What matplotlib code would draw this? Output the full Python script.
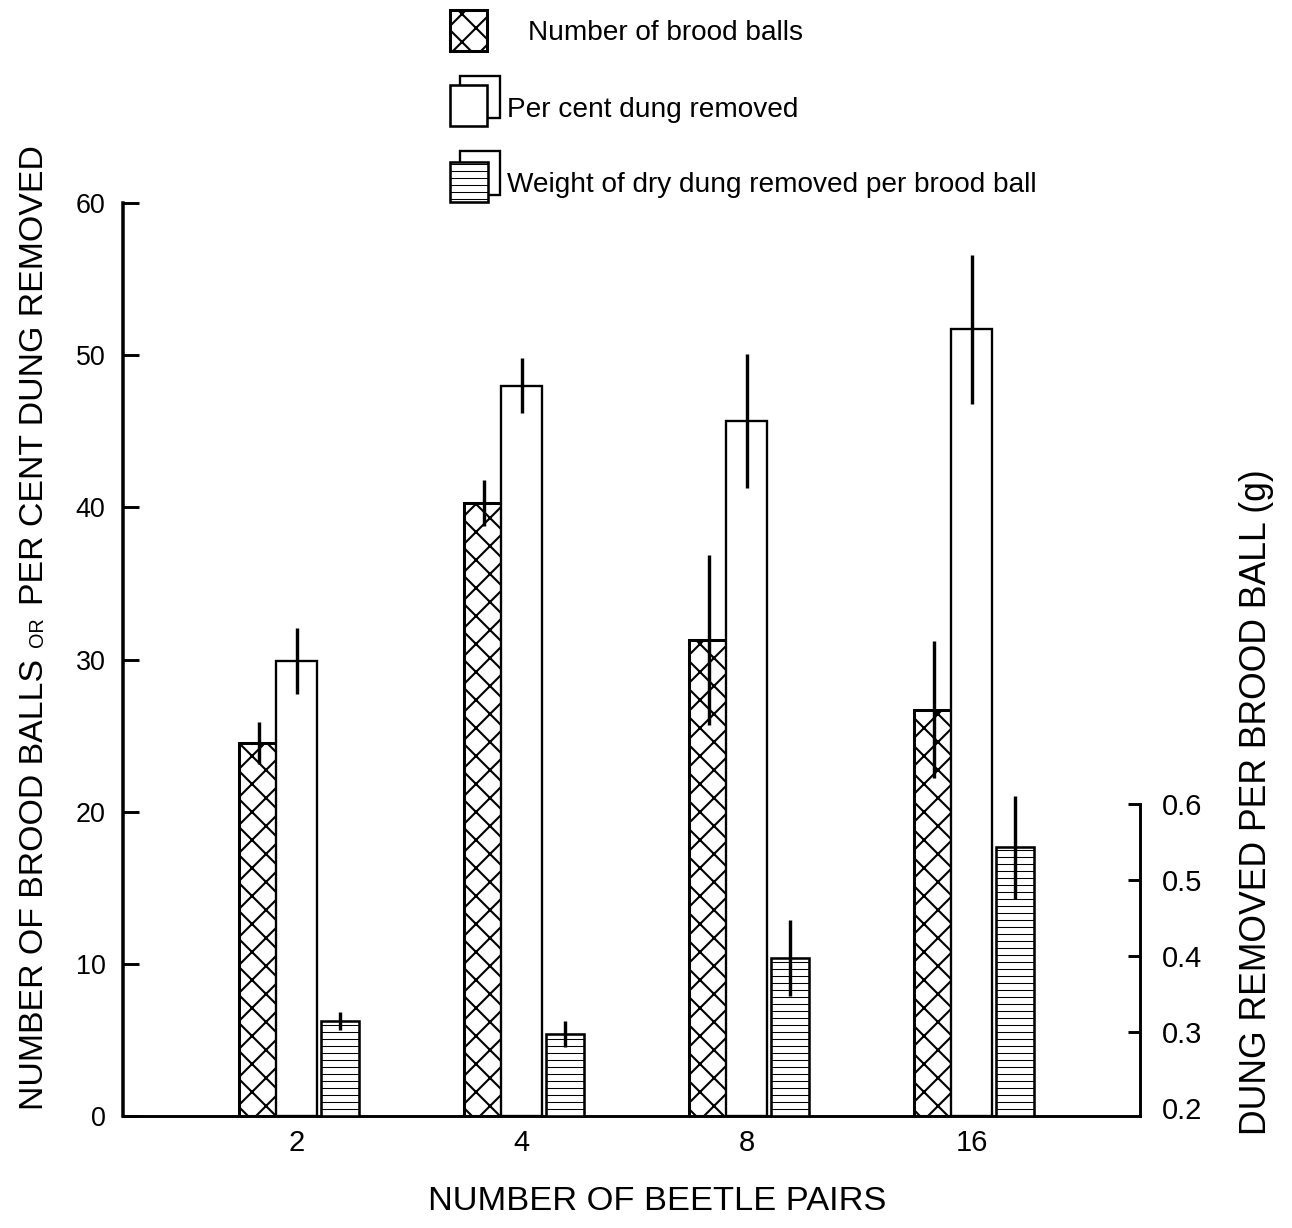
import matplotlib
matplotlib.use('Agg')
import matplotlib.pyplot as plt
from matplotlib.patches import Rectangle
import numpy as np

# Data
pairs = ['2', '4', '8', '16']
brood_balls = [24.5, 40.3, 31.3, 26.7]
brood_balls_err = [1.4, 1.5, 5.6, 4.5]
pct_removed = [29.9, 48.0, 45.7, 51.7]
pct_removed_err = [2.2, 1.8, 4.4, 4.9]
weight_per_ball = [0.314, 0.297, 0.397, 0.543]
weight_per_ball_err = [0.012, 0.017, 0.05, 0.068]

W, H, DPI = 1292, 1228, 84
FONT = ['Liberation Sans', 'DejaVu Sans']

# right axis sits a few pixels higher than the left one in the original
R_LO, R_HI = 0.1895, 1.3908

plt.rcParams['hatch.linewidth'] = 1.8

fig = plt.figure(figsize=(W / DPI, H / DPI), dpi=DPI)
ax = fig.add_axes([123 / W, 112 / H, (1140 - 123) / W, (1116 - 203) / H])
ax2 = ax.twinx()

x = np.arange(len(pairs))

# Number of brood balls (cross hatched)
b1 = ax.bar(x - 0.169, brood_balls, width=0.178, facecolor='white',
            edgecolor='black', linewidth=2.6, hatch='x', zorder=2)
# Per cent dung removed (open)
b2 = ax.bar(x, pct_removed, width=0.182, facecolor='white',
            edgecolor='black', linewidth=2.0, zorder=2)
# Weight per brood ball on right axis (horizontal lines)
w = np.array(weight_per_ball)
b3 = ax2.bar(x + 0.191, w - R_LO, bottom=R_LO, width=0.169, facecolor='white',
             edgecolor='black', linewidth=2.2, hatch='--', zorder=2)
for p in b3:
    if hasattr(p, 'set_hatch_linewidth'):
        p.set_hatch_linewidth(0.9)

ax.errorbar(x - 0.169, brood_balls, yerr=brood_balls_err, fmt='none',
            ecolor='black', elinewidth=2.9, capsize=0, zorder=3)
ax.errorbar(x, pct_removed, yerr=pct_removed_err, fmt='none',
            ecolor='black', elinewidth=2.9, capsize=0, zorder=3)
ax2.errorbar(x + 0.191, weight_per_ball, yerr=weight_per_ball_err, fmt='none',
             ecolor='black', elinewidth=2.9, capsize=0, zorder=3)

# Axes styling
ax.set_xlim(-0.773, 3.747)
ax.set_ylim(0, 60)
ax.set_yticks(range(0, 61, 10))
ax.set_xticks(x)
ax.set_xticklabels(pairs, family=FONT, fontsize=25)
for lab in ax.get_yticklabels():
    lab.set_family(FONT)
    lab.set_fontsize(23)
ax.tick_params(axis='y', direction='in', length=14, width=2.5, pad=15)
ax.tick_params(axis='x', length=0, pad=11)
ax.spines['top'].set_visible(False)
ax.spines['right'].set_visible(False)
ax.spines['left'].set_linewidth(3)
ax.spines['bottom'].set_linewidth(2.5)

ax2.set_ylim(R_LO, R_HI)
ax2.set_yticks([0.2, 0.3, 0.4, 0.5, 0.6])
ax2.set_yticklabels(['0.2', '0.3', '0.4', '0.5', '0.6'], family=FONT, fontsize=25)
ax2.tick_params(axis='y', direction='in', length=10, width=2.5, pad=19)
ax2.yaxis.get_major_ticks()[0].tick2line.set_visible(False)
for s in ['top', 'left', 'bottom']:
    ax2.spines[s].set_visible(False)
ax2.spines['right'].set_bounds(R_LO, 0.6)
ax2.spines['right'].set_linewidth(2.5)


def fx(px):
    return px / W


def fy(py):
    return 1 - py / H


# Axis titles
fig.text(fx(657), fy(1201), 'NUMBER OF BEETLE PAIRS', family=FONT,
         fontsize=29.5, ha='center', va='center')
fig.text(fx(1257), fy(802), 'DUNG REMOVED PER BROOD BALL (g)', family=FONT,
         fontsize=30.5, ha='center', va='center', rotation=90)

# Left title with small-caps "OR", built piece by piece upward
renderer = fig.canvas.get_renderer()
ystart = 1110
for piece, size in [('NUMBER OF BROOD BALLS', 29), ('OR', 17),
                    ('PER CENT DUNG REMOVED', 29)]:
    t = fig.text(fx(43), fy(ystart), piece, family=FONT, fontsize=size,
                 rotation=90, rotation_mode='anchor', ha='left', va='baseline')
    ext = t.get_window_extent(renderer)
    ystart -= ext.height + 12

# Legend drawn by hand


def box(x0, y0, x1, y1, **kw):
    r = Rectangle((fx(x0), fy(y1)), fx(x1) - fx(x0), fy(y0) - fy(y1),
                  transform=fig.transFigure, facecolor='white',
                  edgecolor='black', **kw)
    fig.patches.append(r)
    return r


box(450, 10, 487, 51, linewidth=2.6, hatch='x')
box(460, 76, 500, 118, linewidth=2.0)
box(450, 85, 487, 126, linewidth=2.2)
box(460, 151, 500, 195, linewidth=2.0)
r = box(450, 162, 488, 202, linewidth=2.2, hatch='--')
if hasattr(r, 'set_hatch_linewidth'):
    r.set_hatch_linewidth(0.9)

fig.text(fx(528), fy(33), 'Number of brood balls', family=FONT,
         fontsize=24, va='center')
fig.text(fx(507), fy(110), 'Per cent dung removed', family=FONT,
         fontsize=24, va='center')
fig.text(fx(507), fy(185), 'Weight of dry dung removed per brood ball',
         family=FONT, fontsize=24, va='center')

fig.savefig('out.png', dpi=DPI)
